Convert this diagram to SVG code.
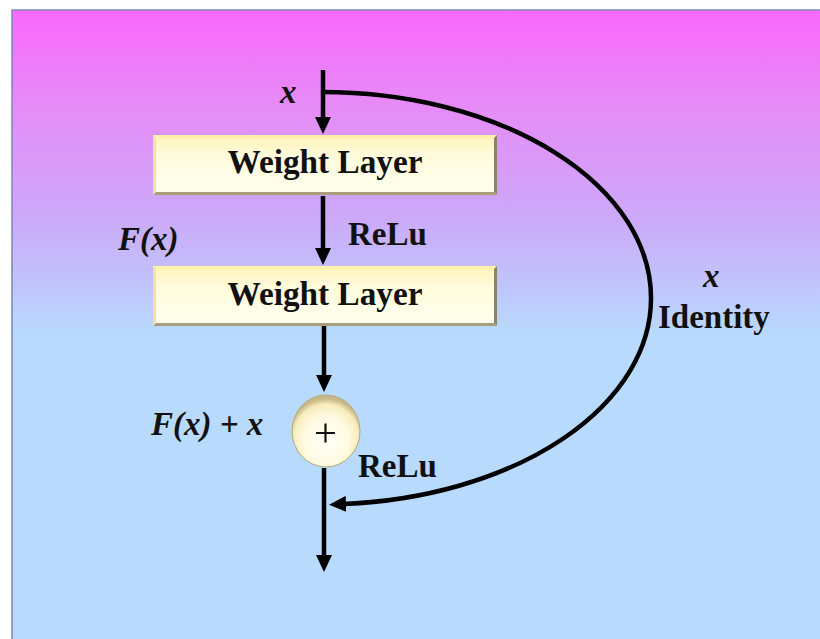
<svg xmlns="http://www.w3.org/2000/svg" width="820" height="639" viewBox="0 0 820 639">
<defs>
<linearGradient id="bg" gradientUnits="userSpaceOnUse" x1="0" y1="10" x2="0" y2="335">
<stop offset="0" stop-color="#fb68fb"/>
<stop offset="0.3" stop-color="#e68cf7"/>
<stop offset="0.65" stop-color="#cbaaf9"/>
<stop offset="1" stop-color="#b8dafd"/>
</linearGradient>
<linearGradient id="boxfill" x1="0" y1="0" x2="0" y2="1">
<stop offset="0" stop-color="#fff3b8"/>
<stop offset="0.35" stop-color="#fffbdc"/>
<stop offset="1" stop-color="#fffff0"/>
</linearGradient>
<radialGradient id="circfill" cx="0.5" cy="0.6" r="0.55" fx="0.5" fy="0.7">
<stop offset="0" stop-color="#fffff6"/>
<stop offset="0.6" stop-color="#fffbe2"/>
<stop offset="0.88" stop-color="#f8ecbc"/>
<stop offset="1" stop-color="#c8b888"/>
</radialGradient>
<marker id="ah" markerUnits="userSpaceOnUse" markerWidth="18" markerHeight="16" refX="2" refY="8" orient="auto">
<path d="M0,0 L17,8 L0,16 Z" fill="#000"/>
</marker>
<style>
.edge{fill:none;stroke:#000;stroke-width:4.5}
.t{font-family:"Liberation Serif","Times New Roman",serif;font-weight:bold;font-size:33px;fill:#111}
.i{font-style:italic}
.bevT{fill:#fff1a8}
.bevL{fill:#efe2a4}
.bevR{fill:#8a826a}
.bevB{fill:#a89e7c}
</style>
</defs>
<rect x="12" y="10" width="820" height="640" fill="url(#bg)" stroke="#7d86b4" stroke-width="1.5"/>

<g id="connectors">
<line class="edge" x1="323" y1="70" x2="323" y2="119" marker-end="url(#ah)"/>
<line class="edge" x1="323" y1="196" x2="323" y2="250" marker-end="url(#ah)"/>
<line class="edge" x1="324" y1="326" x2="324" y2="377" marker-end="url(#ah)"/>
<line class="edge" x1="324" y1="468" x2="324" y2="557" marker-end="url(#ah)"/>
<path class="edge" d="M 322 92 A 329 206 0 0 1 651 298 A 329 206 0 0 1 344 504" marker-end="url(#ah)"/>
</g>

<g id="weight1">
<rect x="153" y="135" width="344" height="60" fill="url(#boxfill)"/>
<polygon class="bevT" points="153,135 497,135 494,138 156,138"/>
<polygon class="bevL" points="153,135 156,138 156,192 153,195"/>
<polygon class="bevR" points="497,135 497,195 494,192 494,138"/>
<polygon class="bevB" points="153,195 497,195 494,192 156,192"/>
<text class="t" x="325" y="173" text-anchor="middle" textLength="195" lengthAdjust="spacingAndGlyphs">Weight Layer</text>
</g>

<g id="weight2">
<rect x="153" y="266" width="344" height="60" fill="url(#boxfill)"/>
<polygon class="bevT" points="153,266 497,266 494,269 156,269"/>
<polygon class="bevL" points="153,266 156,269 156,323 153,326"/>
<polygon class="bevR" points="497,266 497,326 494,323 494,269"/>
<polygon class="bevB" points="153,326 497,326 494,323 156,323"/>
<text class="t" x="325" y="305" text-anchor="middle" textLength="195" lengthAdjust="spacingAndGlyphs">Weight Layer</text>
</g>

<g id="sum">
<ellipse cx="326" cy="431" rx="34" ry="36" fill="url(#circfill)" stroke="#b8a878" stroke-width="1"/>
<path d="M316 433 H335 M325.5 423.5 V442.5" stroke="#111" stroke-width="2.2" fill="none"/>
</g>

<g id="labels">
<text class="t i" x="280" y="103">x</text>
<text class="t i" x="118" y="250">F(x)</text>
<text class="t" x="348" y="245">ReLu</text>
<text class="t i" x="151" y="435">F(x) + x</text>
<text class="t" x="358" y="477">ReLu</text>
<text class="t i" x="703" y="287">x</text>
<text class="t" x="658" y="328">Identity</text>
</g>
</svg>
